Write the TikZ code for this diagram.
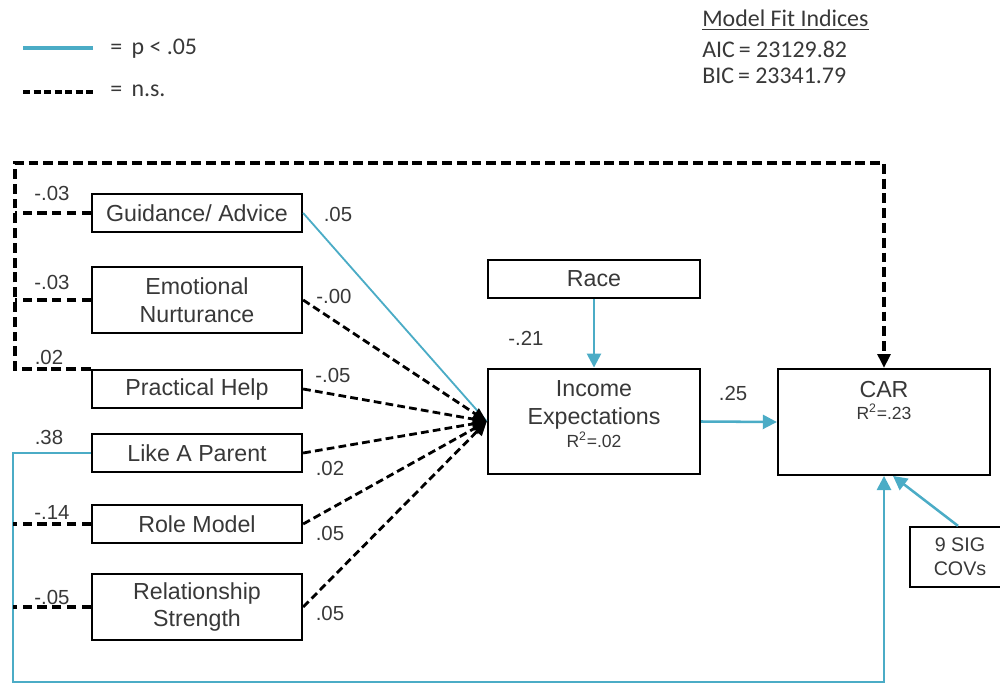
\documentclass[tikz,border=0pt]{standalone}
\usepackage{fontspec}
\setmainfont{Liberation Sans}
\newfontfamily\calib{Carlito}
\usepackage{tikz}
\usetikzlibrary{arrows.meta,calc}
\pgfkeys{/pixel/.code=\tikzset{x=0.025cm,y=-0.025cm}}
\definecolor{sigblue}{RGB}{75,172,198}
\definecolor{ink}{RGB}{56,56,56}

\begin{document}
\begin{tikzpicture}[/pixel,
  box/.style={draw, line width=1.6pt, minimum width=5.25cm, minimum height=0.95cm,
    inner sep=0pt, align=center, text=ink, font=\fontsize{16.5}{19.5}\selectfont},
  tallbox/.style={box, minimum height=1.65cm},
  bigbox/.style={box, minimum width=5.3cm, minimum height=2.64cm},
  boxtxt/.style={text=ink, inner sep=0pt, anchor=base, font=\fontsize{16.5}{19.5}\selectfont},
  rsq/.style={text=ink, inner sep=0pt, anchor=base, font=\fontsize{12.5}{14}\selectfont},
  lbl/.style={text=ink, inner sep=0pt, font=\fontsize{14.5}{17}\selectfont},
  key/.style={text=ink, inner sep=0pt, anchor=west, font=\calib\fontsize{17}{20}\selectfont},
  sig/.style={draw=sigblue, line width=1.8pt},
  ns/.style={draw=black, line width=2.2pt, dash pattern=on 6.5pt off 4pt},
  btip/.style={-{Triangle[length=10pt,width=10pt]}},
  ktip/.style={-{Triangle[length=10pt,width=9pt]}},
]
\useasboundingbox (0,0) rectangle (1000,684);

% legend and fit indices
\coordinate (k1a) at (23,48); \coordinate (k1b) at (93,48);
\coordinate (k2a) at (23,92); \coordinate (k2b) at (93,92);
\draw[sig, line width=2.4pt] (k1a) -- (k1b);
\draw[ns, line width=2.4pt, dash pattern=on 5pt off 2.5pt] (k2a) -- (k2b);
\node[key] (k1) at (110,49) {=\, p < .05};
\node[key] (k2) at (110,91) {=\, n.s.};
\node[key] (mfi) at (702,20) {\underline{Model Fit Indices}};
\node[key] (aic) at (702,49) {AIC\,= 23129.82};
\node[key] (bic) at (702,76) {BIC\,= 23341.79};

% predictors
\node[box] (gui) at (197,213) {Guidance/ Advice};
\node[tallbox] (emo) at (197,300) {Emotional\\Nurturance};
\node[box] (pra) at (197,389) {Practical Help};
\node[box] (lap) at (197,453) {Like A Parent};
\node[box] (rol) at (197,524) {Role Model};
\node[tallbox] (rel) at (197,607) {Relationship\\Strength};

% mediator and outcome
\node[box, minimum width=5.3cm] (race) at (594,279) {Race};
\node[bigbox] (inc) at (594,421.5) {};
\node[boxtxt] (inc1) at (594,396) {Income};
\node[boxtxt] (inc2) at (594,424) {Expectations};
\node[rsq] (inc3) at (594,447) {R\textsuperscript{2}=.02};
\node[bigbox] (car) at (884,422) {};
\node[boxtxt] (car1) at (884,397) {CAR};
\node[rsq] (car2) at (884,419) {R\textsuperscript{2}=.23};
\node[box, minimum width=2.5cm, minimum height=1.5cm,
  font=\fontsize{14}{17}\selectfont] (cov) at (960,557) {9 SIG\\COVs};

% direct paths to CAR
\coordinate (tl) at (15,163);
\coordinate (bl) at (13,682);
\coordinate (br) at (884,682);
\draw[ns, line width=2.7pt, dash pattern=on 7pt off 3.5pt, ktip]
  (pra.north west) -| (tl) -| (car.north);
\draw[ns] (gui.west) -- (gui.west -| tl);
\draw[ns] (emo.west) -- (emo.west -| tl);
\draw[sig, btip] (lap.west) -| (bl) -- (br) -- (car.south);
\draw[ns] (rol.west) -- (rol.west -| bl);
\draw[ns] (rel.west) -- (rel.west -| bl);

% paths to income expectations
\draw[sig, line width=1.3pt] (gui.east) -- (inc.west);
\foreach \src in {emo,pra,lap,rol,rel}
  \draw[ns, line width=2pt, dash pattern=on 5.5pt off 3pt, ktip] (\src.east) -- (inc.west);
\draw[sig, btip] (race.south) -- (inc.north);
\draw[sig, btip] (inc.east) -- (car.west);
\draw[sig, btip] ($(cov.north)+(-2,0)$) -- ($(car.south)+(9,0)$);

% coefficients
\node[lbl] (c1) at (52,193) {-.03};
\node[lbl] (c2) at (52,282) {-.03};
\node[lbl] (c3) at (49,357) {.02};
\node[lbl] (c4) at (49,437) {.38};
\node[lbl] (c5) at (52,512) {-.14};
\node[lbl] (c6) at (52,597) {-.05};
\node[lbl] (d1) at (338,214) {.05};
\node[lbl] (d2) at (334,296) {-.00};
\node[lbl] (d3) at (333,375) {-.05};
\node[lbl] (d4) at (330,468) {.02};
\node[lbl] (d5) at (330,533) {.05};
\node[lbl] (d6) at (330,613) {.05};
\node[lbl] (e1) at (526,338) {-.21};
\node[lbl] (e2) at (733,393) {.25};
\end{tikzpicture}
\end{document}
